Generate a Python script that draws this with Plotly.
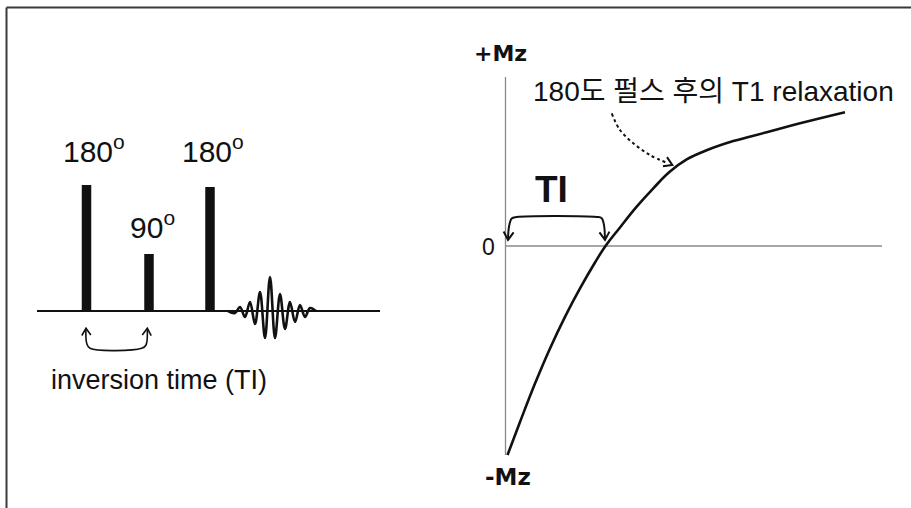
import plotly.graph_objects as go

W, H = 911, 508
FONT = "Liberation Sans, Arial, Noto Sans CJK KR, sans-serif"
FONT_B = "DejaVu Sans, Liberation Sans, sans-serif"

# ---------------- left panel: inversion recovery pulse sequence ----------------
pulse_labels = ["180<sup>o</sup>", "90<sup>o</sup>", "180<sup>o</sup>"]
pulse_times = [86.5, 149.0, 210.0]          # time units
pulse_heights = [126, 57, 124]              # amplitude units
baseline_t = [37, 380]
echo_t = [228, 235, 240, 245, 250, 255, 260, 265, 270, 275, 280, 285, 290, 295, 300, 305, 310, 316]
echo_a = [0, -2, 4, -6, 9, -13, 19, -27, 34, -27, 17, -18, 9, -11, 6, -6, 3, 0]
ti_left_t = [86.0, 86.7, 90.0, 141.7, 146.0, 147.3]
ti_left_a = [-17.3, -32.3, -37.3, -37.3, -34.0, -17.3]
left_caption = "inversion time (TI)"

# ---------------- right panel: T1 relaxation after 180 pulse ----------------
t_curve = [2, 14.5, 29.5, 44.5, 59.5, 74.5, 89.5, 100, 114.5, 131.2, 147.8,
           164.5, 181.2, 201.2, 227.8, 261.2, 294.5, 339.5]
mz_curve = [-1.0, -0.842, -0.658, -0.490, -0.339, -0.203, -0.079, 0.0, 0.0885, 0.188,
            0.276, 0.356, 0.414, 0.458, 0.502, 0.544, 0.587, 0.640]
axis_t_max = 376.5
axis_mz_top = 0.809
ti_br_t = [2.5, 3.5, 6.2, 11.2, 91.2, 96.2, 98.5, 99.5]
ti_br_mz = [0.029, 0.092, 0.132, 0.139, 0.139, 0.133, 0.100, 0.029]
dot_t = [106.2, 114.5, 127.5, 144.5, 162.8]
dot_mz = [0.634, 0.555, 0.493, 0.435, 0.395]
right_title = "180도 펄스 후의 T1 relaxation"

# ---------- pixel mapping helpers (layout) ----------
L_X0, L_Y0 = 0.0, 311.0                  # left: px = t, py = 311 - a
R_X0, R_Y0, R_SY = 505.5, 246.0, 209.0   # right: px = 505.5 + t, py = 246 - 209*mz


def l_to_px(t, a):
    return t - L_X0, L_Y0 - a


def px_to_l(px, py):
    return px + L_X0, L_Y0 - py


def r_to_px(t, m):
    return R_X0 + t, R_Y0 - R_SY * m


def px_to_r(px, py):
    return px - R_X0, (R_Y0 - py) / R_SY


def chevron(px, py, dx, dy, length=7.0, half=5.0):
    """open arrowhead at tip (px,py) pointing along (dx,dy) in pixel space"""
    n = (dx * dx + dy * dy) ** 0.5
    ux, uy = dx / n, dy / n
    bx, by = px - ux * length, py - uy * length
    nx, ny = -uy, ux
    return [(bx + nx * half, by + ny * half), (px, py), (bx - nx * half, by - ny * half)]


fig = go.Figure()
BLACK = "#111111"
GRAY = "#8a8a8a"

# pulses
fig.add_trace(go.Bar(x=pulse_times, y=pulse_heights, width=9.5, base=0,
                     marker=dict(color=BLACK, line=dict(width=0)),
                     xaxis="x", yaxis="y", hoverinfo="skip"))
# baseline
fig.add_trace(go.Scatter(x=baseline_t, y=[0, 0], mode="lines",
                         line=dict(color=BLACK, width=2), xaxis="x", yaxis="y"))
# echo
fig.add_trace(go.Scatter(x=echo_t, y=echo_a, mode="lines", line_shape="spline",
                         line=dict(color=BLACK, width=2.6), xaxis="x", yaxis="y"))
# TI bracket under pulses
fig.add_trace(go.Scatter(x=ti_left_t, y=ti_left_a, mode="lines", line_shape="spline",
                         line=dict(color=BLACK, width=1.6), xaxis="x", yaxis="y"))
for i, j in [(0, 1), (-1, -2)]:
    tpx, tpy = l_to_px(ti_left_t[i], ti_left_a[i])
    ppx, ppy = l_to_px(ti_left_t[j], ti_left_a[j])
    pts = chevron(tpx, tpy, tpx - ppx, tpy - ppy, 7, 4.5)
    xs, ys = zip(*[px_to_l(*p) for p in pts])
    fig.add_trace(go.Scatter(x=xs, y=ys, mode="lines",
                             line=dict(color=BLACK, width=1.6), xaxis="x", yaxis="y"))

# right axes lines
fig.add_trace(go.Scatter(x=[0, 0], y=[-1.0, axis_mz_top], mode="lines",
                         line=dict(color=GRAY, width=1.3), xaxis="x2", yaxis="y2"))
fig.add_trace(go.Scatter(x=[0, axis_t_max], y=[0, 0], mode="lines",
                         line=dict(color=GRAY, width=1.3), xaxis="x2", yaxis="y2"))
# relaxation curve
fig.add_trace(go.Scatter(x=t_curve, y=mz_curve, mode="lines",
                         line=dict(color=BLACK, width=2.6, shape="spline", smoothing=1.2),
                         xaxis="x2", yaxis="y2"))
# TI bracket
fig.add_trace(go.Scatter(x=ti_br_t, y=ti_br_mz, mode="lines", line_shape="spline",
                         line=dict(color=BLACK, width=2), xaxis="x2", yaxis="y2"))
for i, j in [(0, 1), (-1, -2)]:
    tpx, tpy = r_to_px(ti_br_t[i], ti_br_mz[i])
    ppx, ppy = r_to_px(ti_br_t[j], ti_br_mz[j])
    pts = chevron(tpx, tpy, tpx - ppx, tpy - ppy, 8, 5)
    xs, ys = zip(*[px_to_r(*p) for p in pts])
    fig.add_trace(go.Scatter(x=xs, y=ys, mode="lines",
                             line=dict(color=BLACK, width=2), xaxis="x2", yaxis="y2"))
# dotted pointer
fig.add_trace(go.Scatter(x=dot_t, y=dot_mz, mode="lines", line_shape="spline",
                         line=dict(color=BLACK, width=2, dash="dot"), xaxis="x2", yaxis="y2"))
tpx, tpy = r_to_px(dot_t[-1], dot_mz[-1])
tpx += 4
tpy += 1.5
ppx, ppy = r_to_px(dot_t[-2], dot_mz[-2])
pts = chevron(tpx, tpy, tpx - ppx, tpy - ppy, 8, 5)
xs, ys = zip(*[px_to_r(*p) for p in pts])
fig.add_trace(go.Scatter(x=xs, y=ys, mode="lines",
                         line=dict(color=BLACK, width=2), xaxis="x2", yaxis="y2"))

ann = []
# pulse labels (left edge offsets from pulse centre, px)
label_dx = [-25.5, -21.0, -30.5]
label_y = [162.5, 86, 162.5]
for lab, t, dx, y in zip(pulse_labels, pulse_times, label_dx, label_y):
    ann.append(dict(x=t + dx, y=y, xref="x", yref="y", text=lab, showarrow=False,
                    xanchor="left", yanchor="middle",
                    font=dict(family=FONT, size=30, color=BLACK)))
ann.append(dict(x=159, y=-69, xref="x", yref="y", text=left_caption, showarrow=False,
                xanchor="center", yanchor="middle",
                font=dict(family=FONT, size=27, color=BLACK)))
# right labels
ann.append(dict(x=-5.5, y=0.923, xref="x2", yref="y2", text="<b>+Mz</b>", showarrow=False,
                xanchor="center", yanchor="middle", font=dict(family=FONT_B, size=22, color=BLACK)))
ann.append(dict(x=-17.2, y=-0.003, xref="x2", yref="y2", text="0", showarrow=False,
                xanchor="center", yanchor="middle", font=dict(family=FONT, size=23, color=BLACK)))
ann.append(dict(x=2, y=-1.105, xref="x2", yref="y2", text="<b>-Mz</b>", showarrow=False,
                xanchor="center", yanchor="middle", font=dict(family=FONT_B, size=23, color=BLACK)))
ann.append(dict(x=45.5, y=0.27, xref="x2", yref="y2", text="<b>TI</b>", showarrow=False,
                xanchor="center", yanchor="middle", font=dict(family=FONT, size=37, color=BLACK)))
ann.append(dict(x=207.8, y=0.738, xref="x2", yref="y2", text=right_title, showarrow=False,
                xanchor="center", yanchor="middle", font=dict(family=FONT, size=28, color=BLACK)))

shapes = [
    dict(type="line", xref="paper", yref="paper", x0=6.5 / W, x1=6.5 / W, y0=0, y1=1 - 7.5 / H,
         line=dict(color="#3a3a3a", width=2)),
    dict(type="line", xref="paper", yref="paper", x0=6.5 / W, x1=1, y0=1 - 7.5 / H, y1=1 - 7.5 / H,
         line=dict(color="#3a3a3a", width=2)),
]

ax_common = dict(visible=False, showgrid=False, zeroline=False, fixedrange=True)
fig.update_layout(
    width=W, height=H, margin=dict(l=0, r=0, t=0, b=0),
    paper_bgcolor="white", plot_bgcolor="white", showlegend=False,
    xaxis=dict(domain=[0, 1], range=[px_to_l(0, 0)[0], px_to_l(W, 0)[0]], **ax_common),
    yaxis=dict(domain=[0, 1], range=[px_to_l(0, H)[1], px_to_l(0, 0)[1]], **ax_common),
    xaxis2=dict(domain=[0, 1], range=[px_to_r(0, 0)[0], px_to_r(W, 0)[0]], anchor="y2",
                overlaying="x", **ax_common),
    yaxis2=dict(domain=[0, 1], range=[px_to_r(0, H)[1], px_to_r(0, 0)[1]], anchor="x2",
                overlaying="y", **ax_common),
    annotations=ann, shapes=shapes,
)
fig.write_html("out.html", config={"displayModeBar": False},
               post_script="document.body.style.margin='0px';document.body.style.overflow='hidden';")
